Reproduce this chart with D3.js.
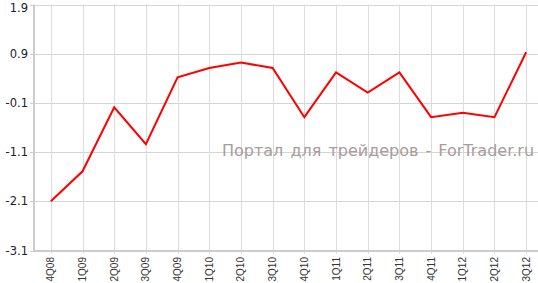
<!DOCTYPE html>
<html>
<head>
<meta charset="utf-8">
<script src="https://cdn.jsdelivr.net/npm/d3@7"></script>
<style>
  body { margin: 0; background: #fff; }
  svg { display: block; }
</style>
</head>
<body>
<svg id="chart" width="538" height="283"></svg>
<script>
// Данные графика
const quarters = ["4Q08", "1Q09", "2Q09", "3Q09", "4Q09", "1Q10", "2Q10", "3Q10",
                  "4Q10", "1Q11", "2Q11", "3Q11", "4Q11", "1Q12", "2Q12", "3Q12"];
const values = [-2.1, -1.49, -0.19, -0.94, 0.42, 0.61, 0.72, 0.61,
                -0.39, 0.52, 0.11, 0.52, -0.39, -0.3, -0.39, 0.93];
const yTicks = [1.9, 0.9, -0.1, -1.1, -2.1, -3.1];
const watermark = "Портал для трейдеров - ForTrader.ru";

const svg = d3.select("#chart");
const plotLeft = 35, plotRight = 542, plotTop = 4.5, plotBottom = 250.5;

const x = d3.scalePoint().domain(quarters).range([plotLeft, plotRight]).padding(0.5);
const y = d3.scaleLinear().domain([-3.1, 1.9]).range([plotBottom, plotTop]);

// Горизонтальная сетка
svg.append("g")
  .selectAll("line")
  .data(yTicks)
  .join("line")
  .attr("x1", plotLeft).attr("x2", 538)
  .attr("y1", d => Math.round(y(d)) + 0.5).attr("y2", d => Math.round(y(d)) + 0.5)
  .attr("stroke", "#d4d4d4");

// Вертикальная сетка
svg.append("g")
  .selectAll("line")
  .data(quarters)
  .join("line")
  .attr("x1", d => Math.round(x(d)) + 0.5).attr("x2", d => Math.round(x(d)) + 0.5)
  .attr("y1", plotTop).attr("y2", plotBottom + 3)
  .attr("stroke", "#dcdcdc");

// Водяной знак
svg.append("text")
  .attr("x", 222).attr("y", 156)
  .attr("font-family", "DejaVu Sans, Verdana, sans-serif")
  .attr("font-size", 16)
  .attr("word-spacing", 2)
  .attr("fill", "#a89c9c")
  .text(watermark);

// Оси
svg.append("line")
  .attr("x1", 34).attr("x2", 34).attr("y1", plotTop).attr("y2", 252)
  .attr("stroke", "#cccccc").attr("stroke-width", 2);
svg.append("line")
  .attr("x1", 33).attr("x2", 538).attr("y1", 251).attr("y2", 251)
  .attr("stroke", "#cccccc").attr("stroke-width", 2);

// Деления и подписи оси Y (верхняя подпись прижата внутрь)
const yAxis = svg.append("g");
yAxis.selectAll("line")
  .data(yTicks)
  .join("line")
  .attr("x1", 30).attr("x2", 34)
  .attr("y1", d => Math.round(y(d)) + 0.5).attr("y2", d => Math.round(y(d)) + 0.5)
  .attr("stroke", "#cccccc");
yAxis.selectAll("text")
  .data(yTicks)
  .join("text")
  .attr("x", 28).attr("y", d => Math.max(y(d) + 4, 12))
  .attr("text-anchor", "end")
  .attr("font-family", "Verdana, DejaVu Sans, sans-serif")
  .attr("font-size", 11.5)
  .attr("fill", "#1c1c30")
  .text(d => d.toFixed(1));

// Подписи оси X
svg.append("g")
  .selectAll("text")
  .data(quarters)
  .join("text")
  .attr("transform", d => `translate(${x(d) + 3.5},257) rotate(-90)`)
  .attr("text-anchor", "end")
  .attr("font-family", "Liberation Sans, Arial, sans-serif")
  .attr("font-size", 10)
  .attr("fill", "#333")
  .text(d => d);

// Линия
const line = d3.line()
  .x((d, i) => x(quarters[i]))
  .y(d => y(d));

svg.append("path")
  .datum(values)
  .attr("d", line)
  .attr("fill", "none")
  .attr("stroke", "#ff0000")
  .attr("stroke-width", 2)
  .attr("stroke-linejoin", "miter");
</script>
</body>
</html>
